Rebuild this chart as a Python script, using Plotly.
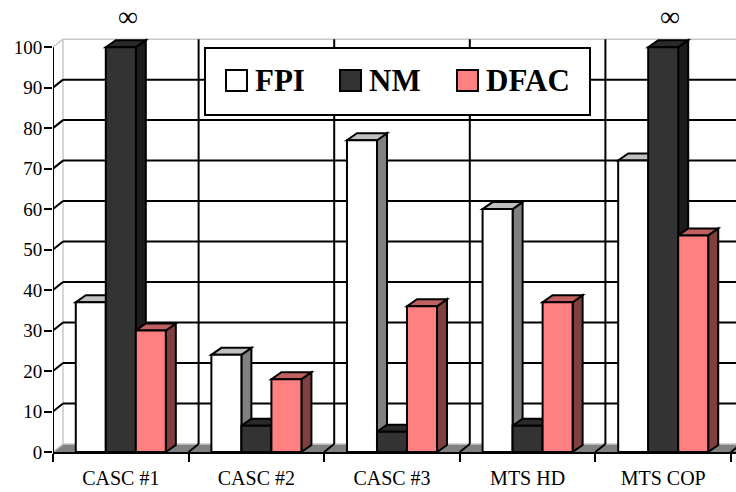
import plotly.graph_objects as go

# ---- data -------------------------------------------------------------
categories = ["CASC #1", "CASC #2", "CASC #3", "MTS HD", "MTS COP"]
series_names = ["FPI", "NM", "DFAC"]
fpi = [37, 24, 77, 60, 72]
nm = [float("inf"), 6.5, 5, 6.5, float("inf")]
dfac = [30, 18, 36, 37, 53.5]
y_ticks = [0, 10, 20, 30, 40, 50, 60, 70, 80, 90, 100]

series_values = [fpi, nm, dfac]

# ---- styling ----------------------------------------------------------
front_colors = ["#FFFFFF", "#333333", "#FF8080"]
side_colors = ["#808080", "#1C1C1C", "#804040"]
top_colors = ["#C0C0C0", "#2A2A2A", "#C06060"]
FONT = "Liberation Serif"

Y_MAX = y_ticks[-1]          # axis ceiling; infinite values are drawn up to it

W, H = 736, 492
M_L, M_R, M_T, M_B = 53, 0, 35, 40
plot_w = W - M_L - M_R
plot_h = H - M_T - M_B
px_per_x = 135.6
X_RANGE = [-0.5, -0.5 + plot_w / px_per_x]
Y_RANGE = [0, 103]
px_per_y = plot_h / (Y_RANGE[1] - Y_RANGE[0])

# oblique projection offsets for the pseudo-3D look
ddx = 10 / px_per_x
bar_dy = 7 / px_per_y
wall_dy = 8 / px_per_y

BARGAP = 0.336
n_series = len(series_names)
bar_w = (1 - BARGAP) / n_series

x_left = X_RANGE[0]
x_far = X_RANGE[1] + 1


def paper_x(px):
    return (px - M_L) / plot_w


def paper_y(py):
    return (H - M_B - py) / plot_h


def clipped(v):
    return min(v, Y_MAX)


def line(x0, y0, x1, y1, color="black", width=2, layer="below"):
    return dict(type="line", xref="x", yref="y", x0=x0, y0=y0, x1=x1, y1=y1,
                line=dict(color=color, width=width), layer=layer)


def poly(pts, fill, layer="below", lw=2):
    path = "M " + " L ".join(f"{x},{y}" for x, y in pts) + " Z"
    return dict(type="path", xref="x", yref="y", path=path, fillcolor=fill,
                line=dict(color="black", width=lw), layer=layer)


shapes = []
WALL_EDGE = "#C8C8C8"

# floor
shapes.append(dict(type="path", xref="x", yref="y",
                   path=f"M {x_left},0 L {x_far},0 L {x_far},{wall_dy} "
                        f"L {x_left + ddx},{wall_dy} Z",
                   fillcolor="#808080", line=dict(width=0), layer="below"))
shapes.append(line(x_left + ddx, wall_dy, x_far, wall_dy, WALL_EDGE, 1.5))
shapes.append(line(x_left, 0, x_left + ddx, wall_dy, WALL_EDGE, 1.5))

# back wall border
shapes.append(line(x_left + ddx, wall_dy, x_left + ddx, Y_MAX + wall_dy, WALL_EDGE, 1.5))
shapes.append(line(x_left + ddx, Y_MAX + wall_dy, x_far, Y_MAX + wall_dy, WALL_EDGE, 1.5))
shapes.append(line(x_left, Y_MAX, x_left + ddx, Y_MAX + wall_dy, WALL_EDGE, 1.5))

# horizontal wall gridlines with their slanted connectors to the front axis
for v in y_ticks[1:-1]:
    shapes.append(line(x_left + ddx, v + wall_dy, x_far, v + wall_dy))
    shapes.append(line(x_left, v, x_left + ddx, v + wall_dy))

# category boundaries: vertical wall gridlines and floor slants
boundaries = [i + 0.5 for i in range(len(categories))]
for b in boundaries:
    shapes.append(line(b + ddx, wall_dy, b + ddx, Y_MAX + wall_dy))
    shapes.append(line(b, 0, b + ddx, wall_dy))

# side and top faces of each column, painted left to right
for ci in range(len(categories)):
    for si in range(n_series):
        v = clipped(series_values[si][ci])
        x0 = ci + (si - (n_series - 1) / 2) * bar_w - bar_w / 2
        x1 = x0 + bar_w
        shapes.append(poly([(x1, 0), (x1 + ddx, bar_dy), (x1 + ddx, v + bar_dy), (x1, v)],
                           side_colors[si]))
        shapes.append(poly([(x0, v), (x1, v), (x1 + ddx, v + bar_dy), (x0 + ddx, v + bar_dy)],
                           top_colors[si]))

# front value axis line
shapes.append(line(x_left, 0, x_left, Y_MAX, "black", 2, "above"))

fig = go.Figure()
for si, name in enumerate(series_names):
    fig.add_trace(go.Bar(
        x=categories,
        y=[clipped(v) for v in series_values[si]],
        name=name,
        marker=dict(color=front_colors[si], line=dict(color="black", width=2)),
        showlegend=False,
    ))

annotations = []
# infinity markers above capped columns
for si in range(n_series):
    for ci, v in enumerate(series_values[si]):
        if v == float("inf"):
            xc = ci + (si - (n_series - 1) / 2) * bar_w + ddx * 0.7
            annotations.append(dict(x=xc, y=paper_y(0), xref="x", yref="paper",
                                    text="∞", showarrow=False, yanchor="top",
                                    borderpad=0,
                                    font=dict(family=FONT, size=28, color="black")))

# legend box
LEG = dict(x0=205, x1=590, y0=48, y1=115)
shapes.append(dict(type="rect", xref="paper", yref="paper",
                   x0=paper_x(LEG["x0"]), x1=paper_x(LEG["x1"]),
                   y0=paper_y(LEG["y1"]), y1=paper_y(LEG["y0"]),
                   fillcolor="white", line=dict(color="black", width=2), layer="above"))
swatch_left = [226, 340, 457]
SW = 21
sw_top = 70
for si, name in enumerate(series_names):
    sx = swatch_left[si]
    shapes.append(dict(type="rect", xref="paper", yref="paper",
                       x0=paper_x(sx), x1=paper_x(sx + SW),
                       y0=paper_y(sw_top + SW), y1=paper_y(sw_top),
                       fillcolor=front_colors[si], line=dict(color="black", width=2),
                       layer="above"))
    annotations.append(dict(x=paper_x(sx + SW + 6), y=paper_y(sw_top + SW / 2),
                            xref="paper", yref="paper", text=name, showarrow=False,
                            xanchor="left", yanchor="middle",
                            font=dict(family=FONT, size=31, color="black", weight="bold")))

fig.update_layout(
    width=W, height=H,
    margin=dict(l=M_L, r=M_R, t=M_T, b=M_B, pad=0),
    paper_bgcolor="white", plot_bgcolor="white",
    barmode="group", bargap=BARGAP, bargroupgap=0,
    font=dict(family=FONT, color="black"),
    shapes=shapes,
    annotations=annotations,
    xaxis=dict(type="category", range=X_RANGE, tickson="boundaries",
               ticks="outside", ticklen=8, tickwidth=2, tickcolor="black",
               ticklabelstandoff=7,
               showline=True, linecolor="black", linewidth=2,
               showgrid=False, zeroline=False,
               tickfont=dict(family=FONT, size=20, color="black")),
    yaxis=dict(range=Y_RANGE, tickvals=y_ticks, ticks="outside", ticklen=8,
               tickwidth=2, tickcolor="black", showline=False, showgrid=False,
               ticklabelstandoff=-2,
               zeroline=False, tickfont=dict(family=FONT, size=19, color="black")),
)

fig.write_html("out.html")
